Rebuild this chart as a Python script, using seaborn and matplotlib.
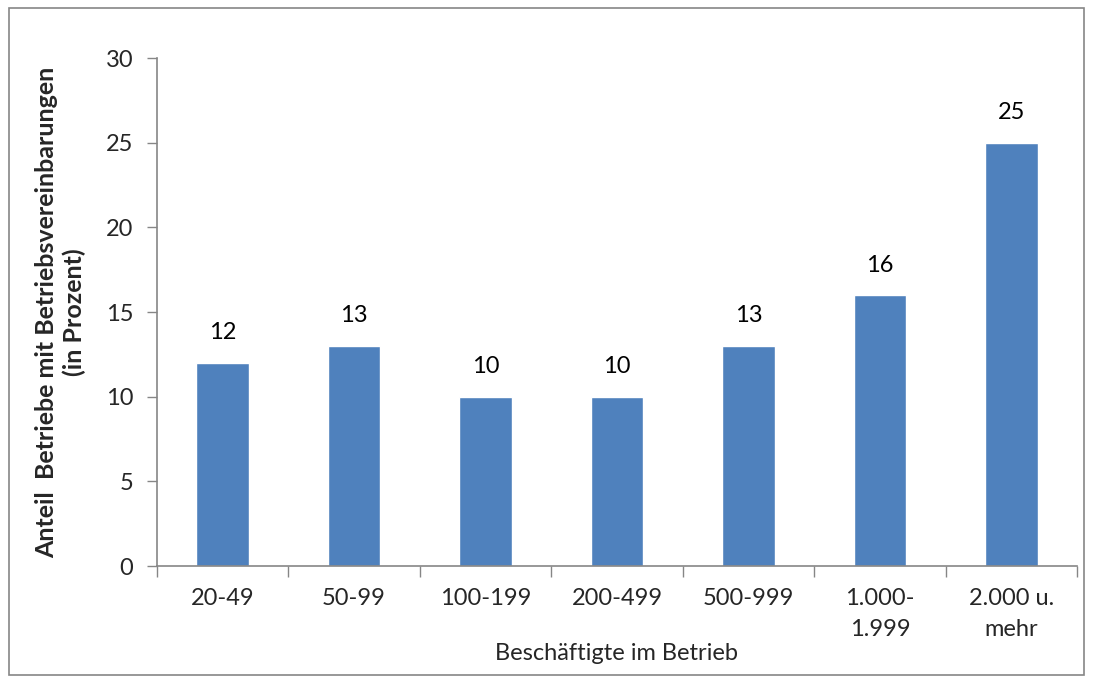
import matplotlib
matplotlib.use("Agg")
import matplotlib.pyplot as plt
import seaborn as sns
import pandas as pd
from matplotlib.patches import Rectangle

categories = ["20-49", "50-99", "100-199", "200-499", "500-999", "1.000-\n1.999", "2.000 u.\nmehr"]
values = [12, 13, 10, 10, 13, 16, 25]
yticks = [0, 5, 10, 15, 20, 25, 30]

sns.set_theme(style="white")
plt.rcParams['font.family'] = ['Lato', 'DejaVu Sans']

df = pd.DataFrame({"cat": categories, "val": values})

fig = plt.figure(figsize=(10.93, 6.84), dpi=100)
ax = fig.add_axes([0.1436, 0.1725, 0.8418, 0.7427])
sns.barplot(data=df, x="cat", y="val", color="#4F81BD", width=0.4, saturation=1, ax=ax)

ax.set_ylim(0, 30)
ax.set_xlim(-0.5, len(categories) - 0.5)
ax.set_yticks(yticks)
ax.set_yticklabels([str(t) for t in yticks], fontsize=17)
ax.tick_params(axis='y', length=7, width=1, color='#868686', direction='out', left=True, pad=10)
ax.set_xticks(range(len(categories)))
ax.set_xticklabels(categories, fontsize=17, linespacing=1.6, va='top')
ax.tick_params(axis='x', length=0, pad=16)
ax.set_xticks([i - 0.5 for i in range(len(categories) + 1)], minor=True)
ax.tick_params(axis='x', which='minor', length=8, width=1, color='#868686', direction='out', bottom=True)

for s in ['top', 'right']:
    ax.spines[s].set_visible(False)
for s in ['left', 'bottom']:
    ax.spines[s].set_color('#868686')
    ax.spines[s].set_linewidth(1.2)

for i, v in enumerate(values):
    ax.annotate(str(v), (i, v), xytext=(0, 14), textcoords='offset points',
                ha='center', va='bottom', fontsize=17, color='black')

ax.set_xlabel("Beschäftigte im Betrieb", fontsize=17, labelpad=2)
ax.set_ylabel("Anteil  Betriebe mit Betriebsvereinbarungen\n(in Prozent)", fontsize=18,
              fontweight='bold', labelpad=14, linespacing=1.25)

fig.patches.append(Rectangle((9 / 1093, 1 - 675 / 684), (1084 - 9) / 1093, (675 - 8) / 684,
                             transform=fig.transFigure, fill=False, edgecolor='#868686',
                             linewidth=1.2, zorder=0))

fig.savefig("out.png", dpi=100)
